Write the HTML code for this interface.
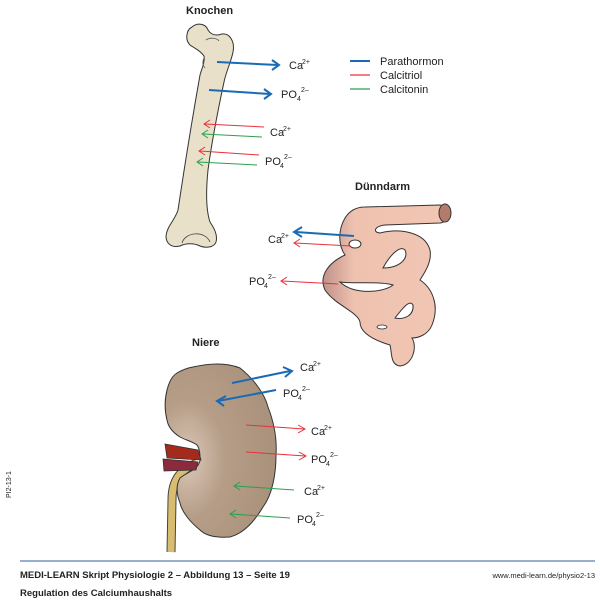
<!DOCTYPE html>
<html><head><meta charset="utf-8"><style>
body{margin:0;background:#fff;width:600px;height:600px;overflow:hidden}
svg{display:block}
text{font-family:"Liberation Sans",sans-serif;fill:#222}
.l{font-size:11px}
.s{font-size:7px}
.b{font-weight:bold;font-size:11px}
</style></head><body>
<svg width="600" height="600" viewBox="0 0 600 600">
<defs>
<radialGradient id="kg" cx="0.2" cy="0.55" r="0.75"><stop offset="0" stop-color="#dcc8b8"/><stop offset="0.45" stop-color="#b59d87"/><stop offset="1" stop-color="#aa927c"/></radialGradient>
<linearGradient id="ig" x1="0" y1="0" x2="1" y2="0"><stop offset="0" stop-color="#c0928a"/><stop offset="0.25" stop-color="#efc2b0"/><stop offset="1" stop-color="#f2c6b4"/></linearGradient>
</defs>
<!-- titles -->
<text x="186" y="14" class="b">Knochen</text>
<text x="355" y="190" class="b">Dünndarm</text>
<text x="192" y="346" class="b">Niere</text>
<!-- legend -->
<line x1="350" y1="61" x2="370" y2="61" stroke="#1a6bb5" stroke-width="2"/>
<line x1="350" y1="75" x2="370" y2="75" stroke="#e8303a" stroke-width="1.3"/>
<line x1="350" y1="89" x2="370" y2="89" stroke="#2aa050" stroke-width="1.3"/>
<text x="380" y="65" class="l">Parathormon</text>
<text x="380" y="79" class="l">Calcitriol</text>
<text x="380" y="93" class="l">Calcitonin</text>
<!-- bone -->
<path d="M190,45 C185,40 186,30 192,27 C198,22 206,24 208,30 C211,35 216,36 222,34 C230,33 235,42 233,52 C231,62 226,72 224,82 C218,110 212,140 208,170 C206,190 206,210 210,222 C214,228 218,235 216,242 C214,248 205,248 200,246 C194,243 186,243 180,246 C172,248 166,244 166,236 C167,226 175,220 178,210 C184,170 192,120 200,75 C202,68 205,62 204,56 C200,50 194,48 190,45 Z" fill="#e9e0c9" stroke="#333" stroke-width="1"/>
<path d="M182,243 C185,232 205,230 210,242" fill="none" stroke="#444" stroke-width="0.8"/>
<path d="M206,40 C210,37 217,38 219,41" fill="none" stroke="#555" stroke-width="0.8"/>
<path d="M204,58 C202,62 203,66 205,68" fill="none" stroke="#555" stroke-width="0.8"/>
<!-- bone arrows -->
<path d="M217,62 L278,65" stroke="#1a6bb5" stroke-width="2" fill="none"/><path d="M272,60 L279,65 L272,70" stroke="#1a6bb5" stroke-width="2" fill="none"/>
<text x="289" y="69" class="l">Ca</text><text x="302" y="64" class="s">2+</text>
<path d="M209,90 L270,94" stroke="#1a6bb5" stroke-width="2" fill="none"/><path d="M264,89 L271,94 L264,99" stroke="#1a6bb5" stroke-width="2" fill="none"/>
<text x="281" y="98" class="l">PO</text><text x="297" y="101" class="s">4</text><text x="301" y="92" class="s">2–</text>
<path d="M264,127 L205,124" stroke="#e8303a" stroke-width="1" fill="none"/><path d="M210,120 L204,124 L210,128" stroke="#e8303a" fill="none"/>
<path d="M262,137 L203,134" stroke="#2aa050" stroke-width="1" fill="none"/><path d="M208,130 L202,134 L208,138" stroke="#2aa050" fill="none"/>
<text x="270" y="136" class="l">Ca</text><text x="283" y="131" class="s">2+</text>
<path d="M259,155 L200,151" stroke="#e8303a" stroke-width="1" fill="none"/><path d="M205,147 L199,151 L205,155" stroke="#e8303a" fill="none"/>
<path d="M257,165 L198,162" stroke="#2aa050" stroke-width="1" fill="none"/><path d="M203,158 L197,162 L203,166" stroke="#2aa050" fill="none"/>
<text x="265" y="165" class="l">PO</text><text x="280" y="168" class="s">4</text><text x="284" y="159" class="s">2–</text>
<!-- intestine -->
<path d="M365,207 L440,205 C450,206 450,222 440,223 L385,225 C375,226 372,232 380,233 C400,228 425,232 430,250 C432,262 425,272 420,280 C432,288 440,305 432,325 C428,335 418,338 412,338 C418,348 412,365 400,366 C390,365 392,352 390,345 C380,342 360,335 360,322 C358,312 335,305 325,290 C318,275 330,262 345,255 C338,245 338,230 345,218 C350,210 357,207 365,207 Z" fill="url(#ig)" stroke="#333" stroke-width="1"/>
<ellipse cx="355" cy="244" rx="6" ry="4" fill="#fff" stroke="#333" stroke-width="1"/>
<path d="M383,268 C390,255 400,245 405,250 C409,258 400,268 383,268 Z" fill="#fff" stroke="#333" stroke-width="1"/>
<path d="M340,282 C355,296 385,292 393,285 C380,281 355,284 340,282 Z" fill="#fff" stroke="#333" stroke-width="1"/>
<path d="M395,318 C405,305 410,300 413,305 C414,315 405,320 395,318 Z" fill="#fff" stroke="#333" stroke-width="1"/>
<ellipse cx="382" cy="327" rx="5" ry="2" fill="#fff" stroke="#333" stroke-width="0.8"/>
<ellipse cx="445" cy="213" rx="6" ry="9" fill="#b27c6c" stroke="#333" stroke-width="1"/>
<!-- intestine arrows -->
<path d="M354,236 L296,232" stroke="#1a6bb5" stroke-width="2" fill="none"/><path d="M302,227 L294,232 L302,237" stroke="#1a6bb5" stroke-width="2" fill="none"/>
<path d="M351,246 L295,243" stroke="#e8303a" stroke-width="1" fill="none"/><path d="M300,239 L294,243 L300,247" stroke="#e8303a" fill="none"/>
<text x="268" y="243" class="l">Ca</text><text x="281" y="238" class="s">2+</text>
<path d="M338,284 L282,281" stroke="#e8303a" stroke-width="1" fill="none"/><path d="M287,277 L281,281 L287,285" stroke="#e8303a" fill="none"/>
<text x="249" y="285" class="l">PO</text><text x="264" y="288" class="s">4</text><text x="268" y="279" class="s">2–</text>
<!-- kidney -->
<path d="M197,463 C180,470 172,480 172,500 L171,552" stroke="#444" stroke-width="9" fill="none"/>
<path d="M197,463 C180,470 172,480 172,500 L171,552" stroke="#d8bc70" stroke-width="7" fill="none"/>
<path d="M193,367 C215,362 230,364 240,368 C255,380 265,395 268,407 C275,425 277,440 276,455 C276,475 272,495 263,507 C255,520 245,533 230,537 C215,538 205,535 200,530 C190,522 182,512 180,503 C176,493 176,485 180,478 C185,474 190,472 193,470 C199,466 201,460 200,457 C200,450 198,446 197,445 C192,441 185,440 180,437 C172,432 168,426 167,420 C164,408 165,398 167,390 C169,382 172,376 177,373 C182,370 187,368 193,367 Z" fill="url(#kg)" stroke="#333" stroke-width="1"/>
<path d="M165,444 L198,450 L201,460 L167,458 Z" fill="#a42a1c" stroke="#333" stroke-width="0.8"/>
<path d="M163,459 L198,462 L196,470 L164,471 Z" fill="#8a2a3c" stroke="#333" stroke-width="0.8"/>
<!-- kidney arrows -->
<path d="M232,383 L290,371" stroke="#1a6bb5" stroke-width="2" fill="none"/><path d="M283,367 L292,371 L285,377" stroke="#1a6bb5" stroke-width="2" fill="none"/>
<text x="300" y="371" class="l">Ca</text><text x="313" y="366" class="s">2+</text>
<path d="M276,390 L218,401" stroke="#1a6bb5" stroke-width="2" fill="none"/><path d="M226,396 L217,401 L224,406" stroke="#1a6bb5" stroke-width="2" fill="none"/>
<text x="283" y="397" class="l">PO</text><text x="298" y="400" class="s">4</text><text x="302" y="391" class="s">2–</text>
<path d="M246,425 L304,429" stroke="#e8303a" stroke-width="1" fill="none"/><path d="M298,425 L305,429 L298,433" stroke="#e8303a" fill="none"/>
<text x="311" y="435" class="l">Ca</text><text x="324" y="430" class="s">2+</text>
<path d="M246,452 L305,456" stroke="#e8303a" stroke-width="1" fill="none"/><path d="M299,452 L306,456 L299,460" stroke="#e8303a" fill="none"/>
<text x="311" y="463" class="l">PO</text><text x="326" y="466" class="s">4</text><text x="330" y="457" class="s">2–</text>
<path d="M294,490 L235,486" stroke="#2aa050" stroke-width="1" fill="none"/><path d="M240,482 L234,486 L240,490" stroke="#2aa050" fill="none"/>
<text x="304" y="495" class="l">Ca</text><text x="317" y="490" class="s">2+</text>
<path d="M290,518 L231,514" stroke="#2aa050" stroke-width="1" fill="none"/><path d="M236,510 L230,514 L236,518" stroke="#2aa050" fill="none"/>
<text x="297" y="523" class="l">PO</text><text x="312" y="526" class="s">4</text><text x="316" y="517" class="s">2–</text>
<!-- side label -->
<text transform="translate(11,498) rotate(-90)" style="font-size:7px">PI2-13-1</text>
<!-- footer -->
<line x1="20" y1="561" x2="595" y2="561" stroke="#5a7fb5" stroke-width="1.2"/>
<text x="20" y="578" style="font-size:9.5px;font-weight:bold">MEDI-LEARN Skript Physiologie 2 – Abbildung 13 – Seite 19</text>
<text x="595" y="578" text-anchor="end" style="font-size:7.5px">www.medi-learn.de/physio2-13</text>
<text x="20" y="596" style="font-size:9.5px;font-weight:bold">Regulation des Calciumhaushalts</text>
</svg>
</body></html>
